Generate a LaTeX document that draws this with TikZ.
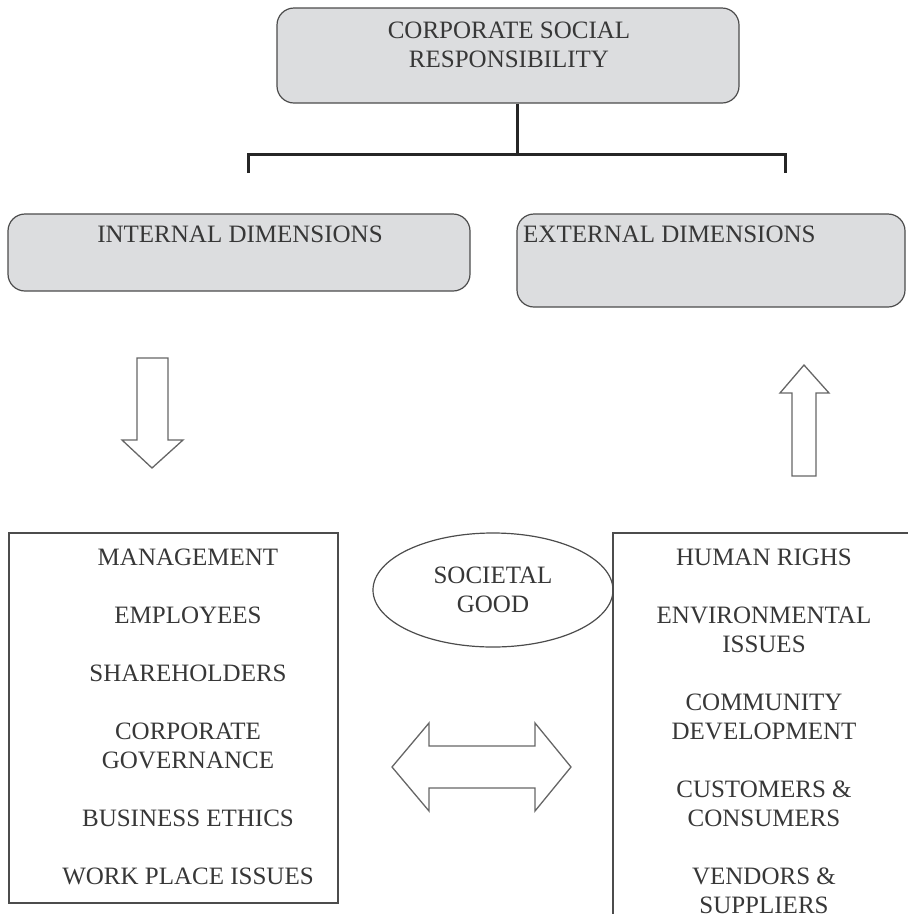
\documentclass[tikz,border=0pt]{standalone}
\usepackage{fontspec}
\setmainfont{Liberation Serif}
\usetikzlibrary{positioning,shapes.geometric}

\definecolor{boxgray}{RGB}{220,221,223}
\definecolor{inkgray}{RGB}{55,55,55}

\tikzset{
    dimbox/.style={draw=black!70, fill=boxgray, rounded corners=17pt, line width=1.2pt, inner sep=0pt},
    listbox/.style={draw=black!70, line width=1.2pt, inner sep=0pt},
    caption/.style={text=inkgray, align=center, inner sep=0pt, font=\fontsize{25}{29}\selectfont},
    hollow/.style={draw=black!60, line width=1.3pt, fill=white},
    bar/.style={draw=black!85, line width=3pt}
}

\begin{document}
\begin{tikzpicture}[x=1pt, y=-1pt]
        \clip (0,0) rectangle (908,914);
        % boxes
        \node[dimbox, minimum width=462pt, minimum height=95pt] (csr) at (508,55.5) {};
        \node[dimbox, minimum width=462pt, minimum height=77pt] (internal) at (239,252.5) {};
        \node[dimbox, minimum width=388pt, minimum height=93pt] (external) at (711,260.5) {};
        \node[listbox, minimum width=329pt, minimum height=370pt] (intlist) at (173.5,718) {};
        \node[listbox, minimum width=330pt, minimum height=420pt] (extlist) at (778,743) {};
        \node[ellipse, draw=black!70, line width=1.2pt, minimum width=240pt, minimum height=114pt,
              caption] (good) at (493,590) {SOCIETAL\\GOOD};

        % texts
        \node[caption, anchor=north] (csrtext) at (509,22) {CORPORATE SOCIAL\\RESPONSIBILITY};
        \node[caption, anchor=north] (inttext) at (240,226) {INTERNAL DIMENSIONS};
        \node[caption, anchor=north west] (exttext) at (523,226) {EXTERNAL DIMENSIONS};
        \node[caption, anchor=north] (intitems) at (188,549) {MANAGEMENT\\[29pt]EMPLOYEES\\[29pt]SHAREHOLDERS\\[29pt]CORPORATE\\GOVERNANCE\\[29pt]BUSINESS ETHICS\\[29pt]WORK PLACE ISSUES};
        \node[caption, anchor=north] (extitems) at (764,549) {HUMAN RIGHS\\[29pt]ENVIRONMENTAL\\ISSUES\\[29pt]COMMUNITY\\DEVELOPMENT\\[29pt]CUSTOMERS \&\\CONSUMERS\\[29pt]VENDORS \&\\SUPPLIERS};

        % bracket
        \coordinate (stem) at (517,154);
        \coordinate (lefttick) at (248,173);
        \coordinate (righttick) at (785,173);
        \draw[bar] (csr.south -| stem) -- (stem);
        \draw[bar] (lefttick) -- (lefttick |- stem) -- (righttick |- stem) -- (righttick);

        % block arrows
        \draw[hollow] (137,358) -- (168,358) -- (168,440) -- (183,440) -- (152,468)
            -- (122,440) -- (137,440) -- cycle;
        \draw[hollow] (792,476) -- (816,476) -- (816,393) -- (829,393) -- (804,365)
            -- (780,393) -- (792,393) -- cycle;
        \draw[hollow] (392,767) -- (429,723) -- (429,746) -- (535,746) -- (535,723) -- (571,767)
            -- (535,811) -- (535,788) -- (429,788) -- (429,811) -- cycle;
    \end{tikzpicture}
\end{document}
